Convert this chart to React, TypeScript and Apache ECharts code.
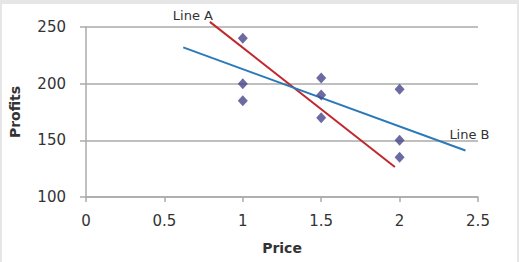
import React, { useEffect, useRef } from "react";
import * as echarts from "echarts";

const xTicks = [0, 0.5, 1, 1.5, 2, 2.5];
const yTicks = [100, 150, 200, 250];
const prices = [1, 1, 1, 1.5, 1.5, 1.5, 2, 2, 2];
const profits = [240, 200, 185, 205, 190, 170, 195, 150, 135];
const lineAX = [0.79, 1.97];
const lineAY = [254.5, 126.5];
const lineBX = [0.62, 2.42];
const lineBY = [232, 141];
const lineNames = ["Line A", "Line B"];

const FONT = "DejaVu Sans";

export default function App() {
  const ref = useRef<HTMLDivElement>(null);
  useEffect(() => {
    document.body.style.margin = "0";
    const chart = echarts.init(ref.current!, null, { renderer: "svg" });
    const labelStyle = {
      show: true,
      position: "inside",
      color: "#333",
      fontFamily: FONT,
      fontSize: 13,
      align: "center",
      verticalAlign: "middle",
    };
    chart.setOption({
      animation: false,
      backgroundColor: "#ffffff",
      graphic: [
        { type: "rect", left: 0, top: 0, shape: { width: 519, height: 4 }, style: { fill: "#e6e6e6" }, silent: true },
        { type: "rect", left: 0, top: 0, shape: { width: 2, height: 262 }, style: { fill: "#e6e6e6" }, silent: true },
        { type: "rect", right: 0, top: 0, shape: { width: 2, height: 262 }, style: { fill: "#e6e6e6" }, silent: true },
      ],
      grid: { left: 84, right: 41, top: 27, bottom: 65 },
      xAxis: {
        type: "value",
        min: xTicks[0],
        max: xTicks[xTicks.length - 1],
        interval: 0.5,
        name: "Price",
        nameLocation: "middle",
        nameGap: 44,
        nameTextStyle: { fontFamily: FONT, fontSize: 14, fontWeight: "bold", color: "#333" },
        axisLine: { show: true, lineStyle: { color: "#aaaaaa", width: 1.5 } },
        axisTick: { show: true, length: 5, lineStyle: { color: "#aaaaaa", width: 1.5 } },
        splitLine: { show: false },
        axisLabel: {
          margin: 16,
          fontFamily: FONT,
          fontSize: 15,
          color: "#333",
          formatter: (v: number) => String(v),
        },
      },
      yAxis: {
        type: "value",
        min: yTicks[0],
        max: yTicks[yTicks.length - 1],
        interval: 50,
        name: "Profits",
        nameLocation: "middle",
        nameGap: 64,
        nameTextStyle: { fontFamily: FONT, fontSize: 14, fontWeight: "bold", color: "#333" },
        axisLine: { show: true, lineStyle: { color: "#aaaaaa", width: 1.5 } },
        axisTick: { show: true, length: 6, lineStyle: { color: "#aaaaaa", width: 1.5 } },
        splitLine: { show: true, lineStyle: { color: "#aaaaaa", width: 1.5 } },
        axisLabel: { margin: 20, fontFamily: FONT, fontSize: 15, color: "#333" },
      },
      series: [
        {
          type: "scatter",
          symbol: "diamond",
          symbolSize: [10, 11],
          itemStyle: { color: "#46468a" },
          data: prices.map((p, i) => [p, profits[i]]),
          z: 3,
        },
        {
          type: "line",
          clip: false,
          symbol: "circle",
          symbolSize: 0.1,
          showSymbol: true,
          lineStyle: { color: "#c1272d", width: 2 },
          itemStyle: { color: "#c1272d" },
          data: [
            { value: [lineAX[0], lineAY[0]], label: { ...labelStyle, formatter: lineNames[0], offset: [-17, -6] } },
            { value: [lineAX[1], lineAY[1]] },
          ],
          z: 2,
        },
        {
          type: "line",
          clip: false,
          symbol: "circle",
          symbolSize: 0.1,
          showSymbol: true,
          lineStyle: { color: "#2a7ab9", width: 2 },
          itemStyle: { color: "#2a7ab9" },
          data: [
            { value: [lineBX[0], lineBY[0]] },
            { value: [lineBX[1], lineBY[1]], label: { ...labelStyle, formatter: lineNames[1], offset: [4, -16] } },
          ],
          z: 2,
        },
      ],
    });
    return () => chart.dispose();
  }, []);
  return <div ref={ref} style={{ width: 519, height: 262 }} />;
}
